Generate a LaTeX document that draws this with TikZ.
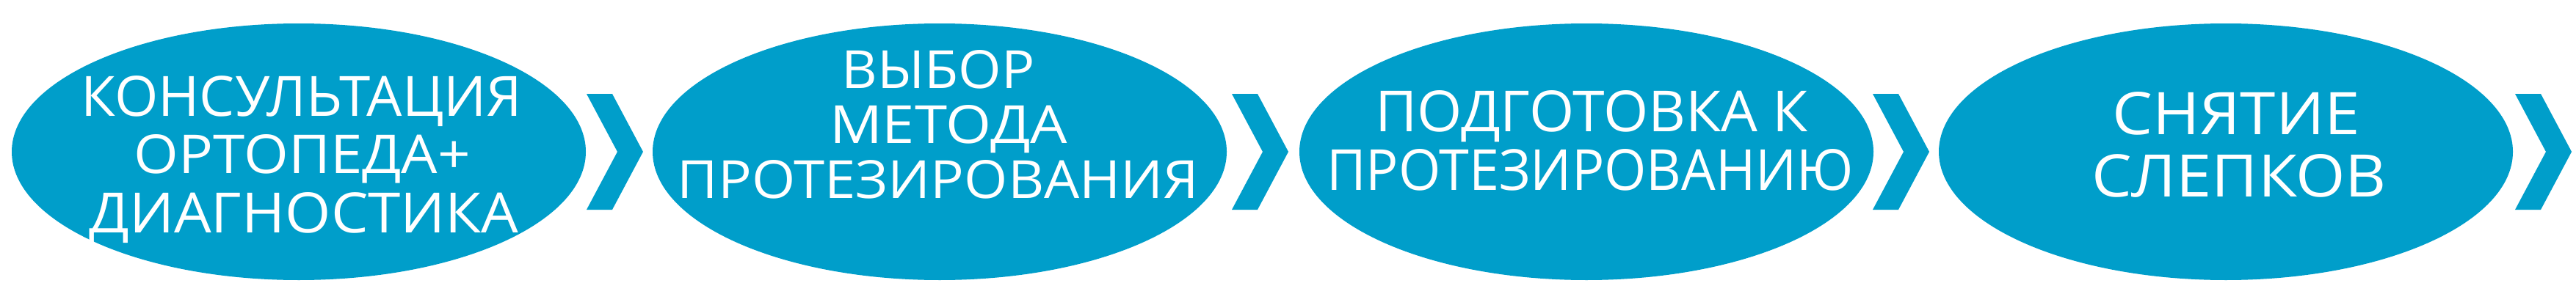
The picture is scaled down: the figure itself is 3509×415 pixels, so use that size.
\documentclass[tikz,border=0pt]{standalone}
\usepackage{fontspec}
\setmainfont{Open Sans}
\usetikzlibrary{shapes.geometric}
\definecolor{blobblue}{RGB}{0,158,202}
\tikzset{
  blob/.style={ellipse, fill=blobblue, draw=none, inner sep=0pt, minimum width=782pt, minimum height=350pt},
  chev/.style={fill=blobblue, draw=none},
  lbl/.style={text=white, anchor=base, inner sep=0pt, font=\fontsize{78}{78}\selectfont},
}
\begin{document}
\begin{tikzpicture}[x=1pt,y=-1pt]
\useasboundingbox (0,0) rectangle (3509,415);
\node[blob] (e1) at (407,207) {};
\node[blob] (e2) at (1280,207) {};
\node[blob] (e3) at (2161,207) {};
\node[blob] (e4) at (3032,207) {};
% chevrons
\coordinate (c1) at (799,207);
\coordinate (c2) at (1678,207);
\coordinate (c3) at (2551,207);
\coordinate (c4) at (3426,207);
\foreach \c in {c1,c2,c3,c4}{
  \fill[chev] ([shift={(0,-79)}]\c) -- ([shift={(35,-79)}]\c) -- ([shift={(77,0)}]\c)
    -- ([shift={(35,79)}]\c) -- ([shift={(0,79)}]\c) -- ([shift={(42,0)}]\c) -- cycle;
}
% texts
\node[lbl] (t1a) at (411,158) {\resizebox{600pt}{55pt}{КОНСУЛЬТАЦИЯ}};
\node[lbl] (t1b) at (412,236) {\resizebox{458pt}{53pt}{ОРТОПЕДА+}};
\node[lbl] (t1c) at (414,317) {\resizebox{585pt}{55pt}{ДИАГНОСТИКА}};
\node[lbl] (t2a) at (1278,120) {\resizebox{263pt}{52pt}{ВЫБОР}};
\node[lbl] (t2b) at (1292,195) {\resizebox{324pt}{52pt}{МЕТОДА}};
\node[lbl] (t2c) at (1278,270) {\resizebox{710pt}{52pt}{ПРОТЕЗИРОВАНИЯ}};
\node[lbl] (t3a) at (2168,179) {\resizebox{590pt}{56pt}{ПОДГОТОВКА К}};
\node[lbl] (t3b) at (2166,259) {\resizebox{718pt}{56pt}{ПРОТЕЗИРОВАНИЮ}};
\node[lbl] (t4a) at (3046,183) {\resizebox{338pt}{58pt}{СНЯТИЕ}};
\node[lbl] (t4b) at (3050,268) {\resizebox{402pt}{58pt}{СЛЕПКОВ}};
\end{tikzpicture}
\end{document}
